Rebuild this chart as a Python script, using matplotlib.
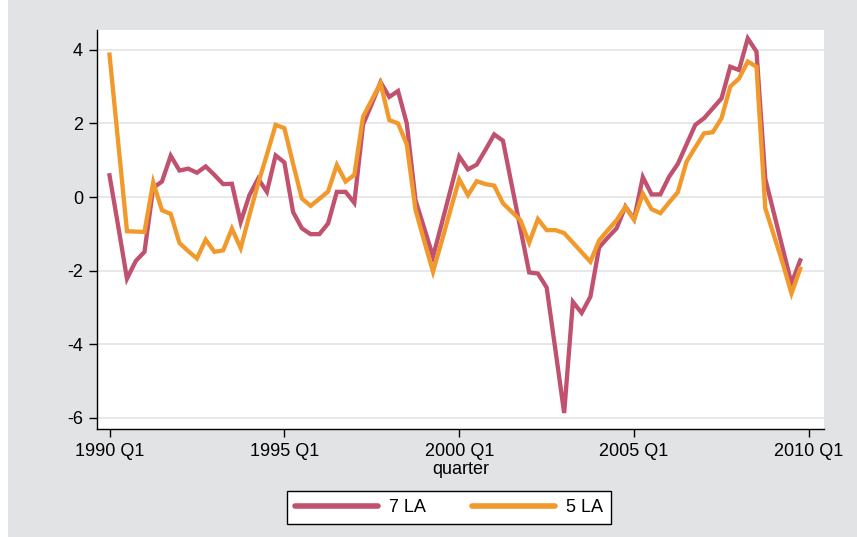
import matplotlib
matplotlib.use('Agg')
import matplotlib.pyplot as plt
from matplotlib.lines import Line2D
from matplotlib.patches import Rectangle

# quarters since 1990 Q1
quarter_index = list(range(80))

la7 = [0.59, -0.80, -2.22, -1.74, -1.49, 0.25, 0.42, 1.12, 0.72, 0.77,
       0.66, 0.83, 0.60, 0.35, 0.36, -0.68, 0.05, 0.50, 0.14, 1.13,
       0.94, -0.41, -0.85, -1.01, -1.01, -0.72, 0.14, 0.14, -0.16, 1.97,
       2.53, 3.12, 2.72, 2.88, 2.00, -0.09, -0.85, -1.62, -0.72, 0.19,
       1.10, 0.75, 0.88, 1.28, 1.70, 1.53, 0.33, -0.86, -2.05, -2.08,
       -2.46, -4.15, -5.87, -2.85, -3.15, -2.71, -1.37, -1.10, -0.85, -0.26,
       -0.60, 0.54, 0.07, 0.07, 0.55, 0.90, 1.43, 1.96, 2.14, 2.41,
       2.68, 3.54, 3.45, 4.31, 3.95, 0.50, -0.45, -1.40, -2.35, -1.72]

la5 = [3.87, 1.47, -0.93, -0.94, -0.95, 0.40, -0.36, -0.46, -1.25, -1.47,
       -1.67, -1.16, -1.49, -1.45, -0.86, -1.39, -0.50, 0.37, 1.15, 1.96,
       1.87, 0.90, -0.04, -0.24, -0.05, 0.15, 0.87, 0.42, 0.60, 2.18,
       2.64, 3.09, 2.09, 2.00, 1.43, -0.35, -1.20, -2.03, -1.20, -0.35,
       0.48, 0.05, 0.43, 0.35, 0.31, -0.17, -0.40, -0.63, -1.24, -0.60,
       -0.90, -0.90, -0.98, -1.24, -1.50, -1.76, -1.18, -0.90, -0.63, -0.27,
       -0.62, 0.09, -0.33, -0.44, -0.15, 0.13, 0.96, 1.35, 1.73, 1.76,
       2.14, 3.00, 3.22, 3.68, 3.54, -0.30, -1.05, -1.80, -2.62, -1.95]

x_tick_pos = [0, 20, 40, 60, 80]
x_tick_labels = ['1990 Q1', '1995 Q1', '2000 Q1', '2005 Q1', '2010 Q1']
y_ticks = [-6, -4, -2, 0, 2, 4]
series_names = ['7 LA', '5 LA']
series_colors = ['#c0526f', '#f2992c']

W, H = 857, 537
plt.rcParams['font.family'] = ['Liberation Sans', 'DejaVu Sans']
fig = plt.figure(figsize=(W / 100, H / 100), dpi=100)
fig.patch.set_facecolor('white')
fig.patches.append(Rectangle((8 / W, 0), 1 - 8 / W, 1, transform=fig.transFigure,
                             facecolor='#e2e3e5', edgecolor='none', zorder=-10))

ax = fig.add_axes([97 / W, 1 - 429 / H, 727 / W, 399 / H])
ax.set_facecolor('white')

ax.plot(quarter_index, la7, color=series_colors[0], lw=3.1, solid_joinstyle='miter', zorder=3)
ax.plot(quarter_index, la5, color=series_colors[1], lw=3.1, solid_joinstyle='miter', zorder=4)

ax.set_xlim(-1.43, 81.72)
ax.set_ylim(-6.304, 4.538)
ax.set_xticks(x_tick_pos)
ax.set_xticklabels(x_tick_labels)
ax.set_yticks(y_ticks)
ax.set_yticklabels([str(v) for v in y_ticks])
ax.yaxis.grid(True, color='#e6e6e6', lw=1.3)
ax.set_axisbelow(True)
for s in ['top', 'right']:
    ax.spines[s].set_visible(False)
for s in ['left', 'bottom']:
    ax.spines[s].set_color('black')
    ax.spines[s].set_linewidth(1.0)
ax.tick_params(direction='out', length=6, width=1, labelsize=13, pad=4, colors='black')
ax.set_xlabel('quarter', fontsize=13, labelpad=1)

handles = [Line2D([0], [0], color=c, lw=4.0, solid_capstyle='round') for c in series_colors]
leg = fig.legend(handles, series_names, loc='center', bbox_to_anchor=(449 / W, 1 - 507.5 / H),
                 ncol=2, frameon=True, fancybox=False, edgecolor='black', facecolor='white',
                 handlelength=4.6, handletextpad=0.6, columnspacing=2.6, borderpad=0.45,
                 fontsize=13, framealpha=1)
leg.get_frame().set_linewidth(1.0)

fig.savefig('out.png', dpi=100, facecolor=fig.get_facecolor())
